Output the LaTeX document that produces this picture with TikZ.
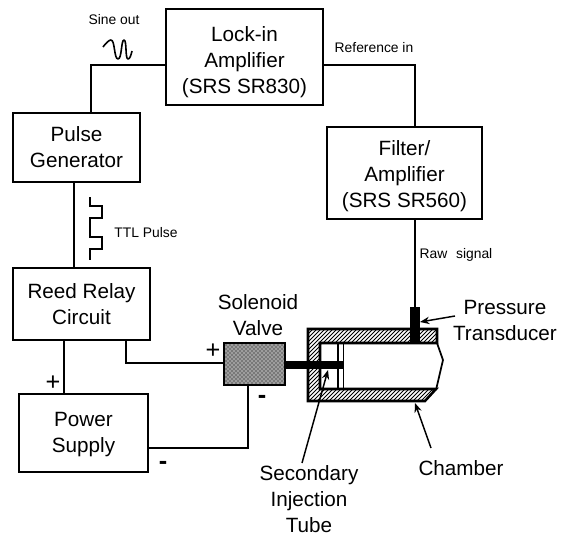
\documentclass[tikz,border=0pt]{standalone}
\usepackage{fontspec}
\setmainfont{Liberation Sans}
\usetikzlibrary{patterns,arrows.meta}
\tikzset{
  box/.style n args={2}{draw=black,line width=1.3pt,fill=none,inner sep=0pt,outer sep=0pt,align=center,
    minimum width={#1*0.75pt},minimum height={#2*0.75pt},font=\fontsize{15.5}{19.5}\selectfont},
  txt/.style={inner sep=0pt,align=center,font=\fontsize{15.5}{19.5}\selectfont},
  small/.style={inner sep=0pt,font=\fontsize{10.4}{12}\selectfont},
  sign/.style={inner sep=0pt,font=\fontsize{19}{19}\selectfont},
  minus/.style={inner sep=0pt,font=\bfseries\fontsize{19}{19}\selectfont},
  wire/.style={line width=1.2pt},
  hatchline/.style={line width=0.55pt},
  pointer/.style={line width=1.1pt,-{Stealth[length=7pt,width=5.5pt]}}
}
\begin{document}
\begin{tikzpicture}[x=0.75pt,y=-0.75pt]
\useasboundingbox (0,0) rectangle (561,535);
% boxes
\node[box={157}{96}] (lock) at (244.5,57) {\rule{0pt}{18.6pt}Lock-in\\Amplifier\\(SRS SR830)};
\node[box={127}{69}] (pulse) at (76.5,147.5) {Pulse\\Generator};
\node[box={137}{72}] (reed) at (81.5,304) {Reed Relay\\Circuit};
\node[box={129}{78}] (power) at (83.5,433) {\rule{0pt}{13pt}Power\\Supply};
\node[box={155}{92}] (filter) at (404.5,173) {\rule{0pt}{15.6pt}Filter/\\Amplifier\\(SRS SR560)};
% solenoid valve
\node[draw=black,line width=1.7pt,fill=black!38,minimum width=45.75pt,minimum height=31.5pt,inner sep=0pt,outer sep=0pt] (valve) at (254.5,364) {};
\fill[pattern=crosshatch dots,pattern color=black] (valve.south west) rectangle (valve.north east);
% chamber walls
\begin{scope}
\clip (308,329) -- (437,329) -- (437,343) -- (320,343) -- (320,389) -- (436,389) -- (425,401) -- (308,401) -- cycle;
\foreach \k in {0,4,...,236}{\draw[hatchline] (220+\k,410) -- (220+\k+90,320);}
\end{scope}
\draw[draw=black,line width=1.9pt] (308,329) -- (437,329) -- (437,343) -- (320,343) -- (320,389) -- (436,389) -- (425,401) -- (308,401) -- cycle;
\draw[line width=1.3pt] (437,343) -- (443,360) -- (436,390);
\draw[line width=1.3pt] (338,343) -- (338,389);
\draw[line width=1.3pt] (343.5,343) -- (343.5,389);
\fill[black] (410,307) rectangle (420,343);
\fill[black] (285,361) rectangle (344,369);
\coordinate (tubeTip) at (328,370);
\coordinate (xducer) at (415,307);
\coordinate (xducerSide) at (420,322);
\coordinate (chamberEdge) at (415,403);
% wires
\coordinate (lockL) at (166,65);
\coordinate (lockR) at (323,65);
\coordinate (pulseT) at (91,113);
\coordinate (filterT) at (415,127);
\coordinate (filterB) at (415,219);
\coordinate (pulseB) at (74,182);
\coordinate (reedT) at (74,268);
\coordinate (reedB) at (64,340);
\coordinate (powerT) at (64,394);
\coordinate (reedB2) at (126,340);
\coordinate (valveL) at (224,363);
\coordinate (valveB) at (248,385);
\coordinate (powerR) at (148,448);
\draw[wire] (lockL) -| (pulseT);
\draw[wire] (lockR) -| (filterT);
\draw[wire] (filterB) -- (xducer);
\draw[wire] (pulseB) -- (reedT);
\draw[wire] (reedB) -- (powerT);
\draw[wire] (reedB2) |- (valveL);
\draw[wire] (valveB) |- (powerR);
% waveforms
\draw[line width=1.2pt,line join=round] (103,47) .. controls (106,43) and (109,40) .. (111,40) .. controls (115,40) and (114,59) .. (118,59) .. controls (122,59) and (121,40) .. (124,40) .. controls (127,40) and (125,59) .. (128,59) .. controls (130,59) and (131,55) .. (132,51);
\draw[line width=1.1pt] (90,197) |- (102,206) |- (90,218) |- (102,237) |- (90,249) -- (90,260);
% labels
\node[small] (sine) at (114,20) {Sine out};
\node[small] (ref) at (374,48) {Reference in};
\node[small] (raw) at (456,255) {Raw\hspace{0.35em} signal};
\node[small] (ttl) at (146,233) {TTL Pulse};
\node[txt] (vlabel) at (258,315.5) {Solenoid\\Valve};
\node[txt] (plabel) at (505,320.5) {Pressure\\Transducer};
\node[txt] (slabel) at (309,499) {Secondary\\Injection\\Tube};
\node[txt] (clabel) at (461,468) {Chamber};
\node[sign] (p1) at (53,383) {+};
\node[sign] (p2) at (213,351) {+};
\node[minus] (m1) at (262,399) {-};
\node[minus] (m2) at (163,465) {-};
% pointers
\coordinate (pfrom) at (455,316);
\coordinate (sfrom) at (302,463);
\coordinate (cfrom) at (431,448);
\draw[pointer] (pfrom) -- (xducerSide);
\draw[pointer] (sfrom) -- (tubeTip);
\draw[pointer] (cfrom) -- (chamberEdge);
\end{tikzpicture}
\end{document}
